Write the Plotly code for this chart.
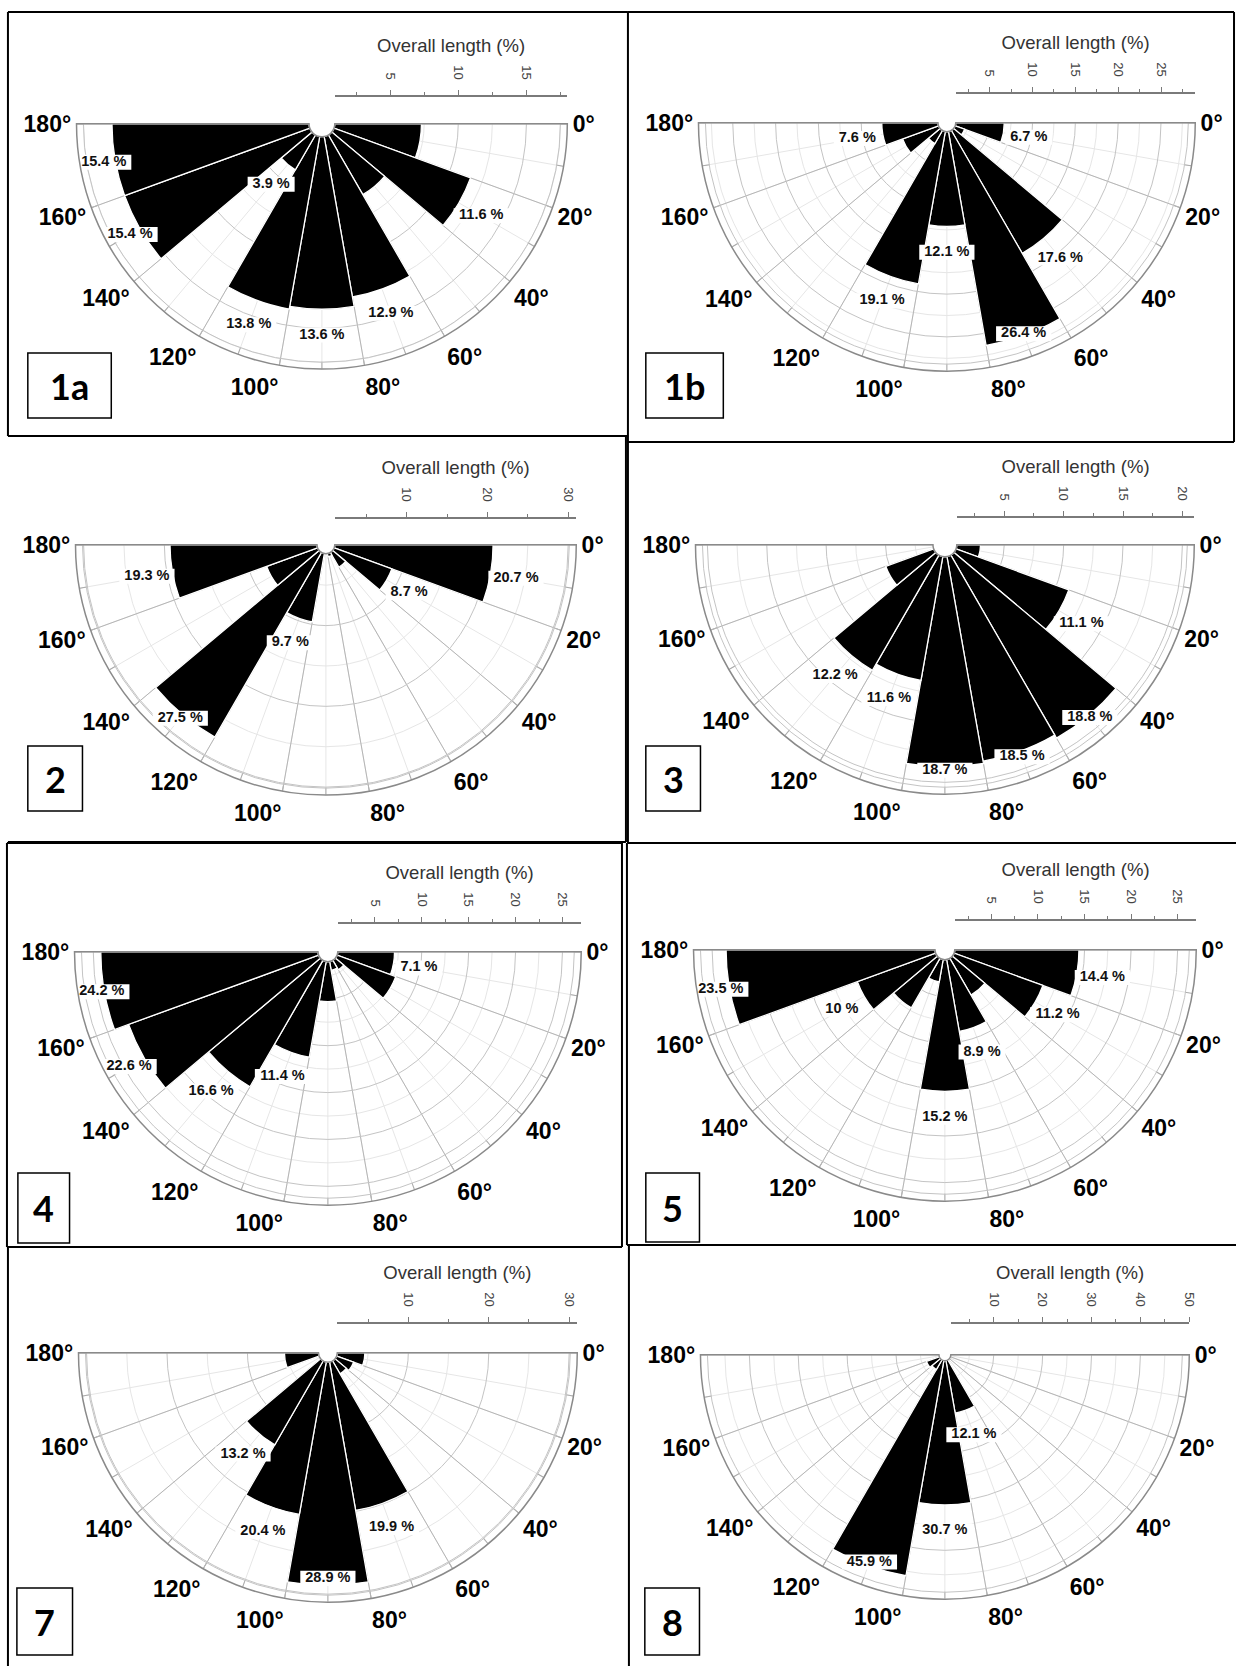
import plotly.graph_objects as go

W, H = 1244, 1666

# ---------------- data ----------------
bin_centres = [10, 30, 50, 70, 90, 110, 130, 150, 170]   # 20-degree bins 0-180
angle_ticks = [0, 20, 40, 60, 80, 100, 120, 140, 160, 180]
angle_labels = [f"{a}°" for a in angle_ticks]

panel_names = ["1a", "1b", "2", "3", "4", "5", "7", "8"]

len_1a = [7.3, 11.6, 6.0, 12.9, 13.6, 13.8, 3.9, 15.4, 15.4]
len_1b = [6.7, 2.2, 17.6, 26.4, 12.1, 19.1, 2.8, 5.5, 7.6]
len_2 = [20.7, 8.7, 3.2, 1.5, 0.8, 9.7, 27.5, 7.8, 19.3]
len_3 = [3.0, 11.1, 18.8, 18.5, 18.7, 11.6, 12.2, 5.3, 0.8]
len_4 = [7.1, 7.7, 2.2, 2.0, 5.3, 11.4, 16.6, 22.6, 24.2]
len_5 = [14.4, 11.2, 5.6, 8.9, 15.2, 3.5, 7.2, 10.0, 23.5]
len_7 = [4.6, 3.4, 3.0, 19.9, 28.9, 20.4, 13.2, 1.0, 5.4]
len_8 = [1.2, 1.0, 1.0, 12.1, 30.7, 45.9, 3.5, 4.0, 0.3]

# bins that carry a percentage label
labelled_1a = [1, 3, 4, 5, 6, 7, 8]
labelled_1b = [0, 2, 3, 4, 5, 8]
labelled_2 = [0, 1, 5, 6, 8]
labelled_3 = [1, 2, 3, 4, 5, 6]
labelled_4 = [0, 5, 6, 7, 8]
labelled_5 = [0, 1, 3, 4, 7, 8]
labelled_7 = [3, 4, 5, 6]
labelled_8 = [3, 4, 5]

radial_max = [18, 29, 31, 21, 27, 27, 31, 50]
radial_step = [5, 5, 10, 5, 5, 5, 10, 10]

series = [len_1a, len_1b, len_2, len_3, len_4, len_5, len_7, len_8]
labelled = [labelled_1a, labelled_1b, labelled_2, labelled_3,
            labelled_4, labelled_5, labelled_7, labelled_8]

# ---------------- layout / style ----------------
# centre x (px), top edge y (px), radius (px)
geom = [(324, 123, 247), (953, 122, 250), (328, 544, 252), (951, 544, 251),
        (330, 951, 255), (951, 949, 253), (330, 1352, 251), (951, 1354, 246)]
axis_y = [97, 94, 519, 518, 924, 921, 1324, 1324]
hole_px = [13, 9, 9, 12, 10, 10, 9.5, 6]
label_boxes = [(28, 353, 112, 418), (650, 353, 728, 418), (28, 746, 83, 811),
               (650, 746, 705, 811), (18, 1173, 70, 1243), (650, 1173, 704, 1242),
               (17, 1588, 73, 1655), (649, 1588, 704, 1655)]
border_lines = [
    (8, 12, 632, 12), (8, 12, 8, 436), (8, 436, 632, 436), (632, 12, 632, 442),
    (632, 12, 1242, 12), (1242, 12, 1242, 442), (632, 442, 1242, 442),
    (630, 436, 630, 842), (8, 842, 630, 842),
    (632, 442, 632, 843), (632, 843, 1244, 843),
    (7, 843, 626, 843), (7, 843, 7, 1247), (626, 843, 626, 1247), (7, 1247, 626, 1247),
    (631, 843, 631, 1245), (631, 1245, 1244, 1245),
    (8, 1247, 8, 1666), (633, 1245, 633, 1666),
]
# (background grid polar, foreground polar) ids per panel
polar_pairs = [(1, 16), (2, 3), (4, 5), (6, 7), (8, 9), (10, 11), (12, 13), (14, 15)]

FONT = "Liberation Sans, Arial, sans-serif"


def px(x):
    return x / W


def py(y):
    return 1 - y / H


def pid(n):
    return "polar" if n == 1 else f"polar{n}"


fig = go.Figure()
layout = dict(width=W, height=H, margin=dict(l=0, r=0, t=0, b=0),
              paper_bgcolor="white", plot_bgcolor="white", showlegend=False,
              shapes=[], annotations=[])

minor_angles = list(range(0, 181, 10))

for i, name in enumerate(panel_names):
    cx, top, R = geom[i]
    rmax = radial_max[i]
    step = radial_step[i]
    h = hole_px[i] / R
    r0 = h * rmax
    dom = dict(x=[px(cx - R), px(cx + R)], y=[py(top + R), py(top)])

    n_major = int(rmax // step)
    major_vals = [step * k for k in range(1, n_major + 1) if step * k < rmax]
    minor_vals = [step / 2 * k for k in range(1, int(rmax // (step / 2)) + 1)
                  if step / 2 * k < rmax and (k % 2 == 1)]
    ring = rmax * (1 - 7 / R)

    pb = pid(polar_pairs[i][0])
    pt = pid(polar_pairs[i][1])

    layout[pb] = dict(
        domain=dom, sector=[180, 360], hole=h, bgcolor="white",
        radialaxis=dict(range=[r0, rmax], tickvals=minor_vals, showticklabels=False,
                        ticks="", showline=False, gridcolor="#e6e6e6", gridwidth=1),
        angularaxis=dict(rotation=0, direction="clockwise",
                         tickvals=minor_angles + [a - 360 for a in minor_angles],
                         showticklabels=False,
                         ticks="inside", ticklen=7, tickcolor="#aaaaaa",
                         gridcolor="#e6e6e6", showline=False),
    )
    layout[pt] = dict(
        domain=dom, sector=[180, 360], hole=h, bgcolor="rgba(0,0,0,0)",
        radialaxis=dict(range=[r0, rmax], tickvals=major_vals + [ring],
                        showticklabels=False, ticks="", showline=False,
                        gridcolor="#c4c4c4", gridwidth=1),
        angularaxis=dict(rotation=0, direction="clockwise",
                         tickvals=angle_ticks + [a - 360 for a in angle_ticks],
                         ticktext=angle_labels + angle_labels, ticks="",
                         tickfont=dict(family=FONT, size=23, color="black", weight="bold"),
                         gridcolor="#b5b5b5", showline=True, linecolor="#8a8a8a",
                         linewidth=1.5),
    )

    # empty trace so the background grid polar is drawn
    fig.add_trace(go.Scatterpolar(r=[], theta=[], subplot=pb, hoverinfo="skip"))

    vals = series[i]
    fig.add_trace(go.Barpolar(
        r=vals, theta=bin_centres, width=20, subplot=pt,
        marker=dict(color="black", line=dict(color="white", width=1.3)),
        hoverinfo="skip"))

    idx = labelled[i]
    texts = [f"{vals[k]:g} %" for k in idx]
    pad = 26 * rmax / R
    edge = 24 * rmax / R
    r_lab = [min(vals[k] + pad, rmax - edge) for k in idx]
    th_lab = [bin_centres[k] for k in idx]
    fig.add_trace(go.Scatterpolar(
        r=r_lab, theta=th_lab, mode="markers", subplot=pt, cliponaxis=False,
        marker=dict(symbol="line-ew", size=[(len(t) * 8.2 + 6) / 1.4 for t in texts],
                    opacity=1, color="white", line=dict(color="white", width=15)),
        hoverinfo="skip"))
    fig.add_trace(go.Scatterpolar(
        r=r_lab, theta=th_lab, mode="text", text=texts, subplot=pt, cliponaxis=False,
        textfont=dict(family=FONT, size=14.5, color="#111", weight="bold"),
        hoverinfo="skip"))

    # horizontal radial scale drawn above the rose, same px scale as the rose
    xa = "xaxis" if i == 0 else f"xaxis{i + 1}"
    ya = "yaxis" if i == 0 else f"yaxis{i + 1}"
    xr = "x" if i == 0 else f"x{i + 1}"
    yr = "y" if i == 0 else f"y{i + 1}"
    ay = axis_y[i]
    tick_major = [step * k for k in range(1, n_major + 1) if step * k <= rmax + 1e-9]
    tick_minor = [step / 2 * k for k in range(1, int(rmax // (step / 2)) + 1)
                  if k % 2 == 1 and step / 2 * k <= rmax]
    layout[xa] = dict(
        domain=[px(cx + h * R), px(cx + R)], range=[r0, rmax], anchor=yr, side="top",
        showline=True, linecolor="#7a7a7a", linewidth=1.5, showgrid=False,
        zeroline=False, ticks="outside", ticklen=5, tickwidth=1.2, tickcolor="#7a7a7a",
        tickvals=tick_major, tickangle=90, ticklabelstandoff=6,
        tickfont=dict(family=FONT, size=13, color="#444"),
        minor=dict(tickvals=tick_minor, ticks="outside", ticklen=3, tickcolor="#7a7a7a"),
        title=dict(text="Overall length (%)", font=dict(family=FONT, size=18.5, color="#333"),
                   standoff=8),
        fixedrange=True)
    layout[ya] = dict(domain=[py(ay) - 0.002, py(ay)], range=[0, 1], visible=False,
                      fixedrange=True)
    fig.add_trace(go.Scatter(x=[], y=[], xaxis=xr, yaxis=yr, hoverinfo="skip"))

    # panel label box
    x0, y0, x1, y1 = label_boxes[i]
    layout["shapes"].append(dict(type="rect", xref="paper", yref="paper",
                                 x0=px(x0), x1=px(x1), y0=py(y1), y1=py(y0),
                                 line=dict(color="black", width=1.5), fillcolor="white"))
    layout["annotations"].append(dict(text=f"<b>{name}</b>", xref="paper", yref="paper",
                                      x=px((x0 + x1) / 2), y=py((y0 + y1) / 2),
                                      xanchor="center", yanchor="middle", showarrow=False,
                                      font=dict(family="Lato, Carlito, sans-serif",
                                                size=36, color="black")))

for (x0, y0, x1, y1) in border_lines:
    layout["shapes"].append(dict(type="line", xref="paper", yref="paper",
                                 x0=px(x0), x1=px(x1), y0=py(y0), y1=py(y1),
                                 line=dict(color="black", width=2)))

fig.update_layout(**layout)
fig.write_html("out.html", config={"displayModeBar": False},
               post_script="document.body.style.margin='0px';"
                           "document.body.style.overflow='hidden';")
